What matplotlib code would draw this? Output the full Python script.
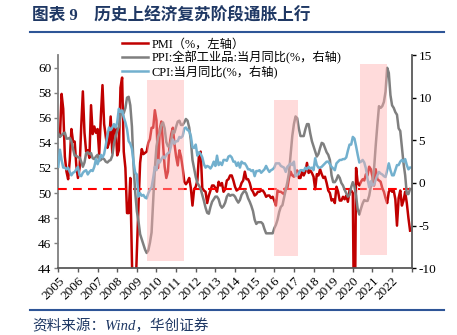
import matplotlib.pyplot as plt
import numpy as np
from matplotlib.lines import Line2D

plt.rcParams['font.family'] = ['Liberation Serif', 'Noto Sans CJK SC']
plt.rcParams['axes.unicode_minus'] = False

# monthly data, Jan 2005 - Dec 2022
pmi = [54.7, 54.5, 57.9, 56.7, 52.9, 51.7, 51.1, 52.6, 55.1, 54.1, 54.1, 52.2,
       51.2, 52.0, 55.3, 58.1, 54.8, 53.3, 53.4, 52.8, 57.0, 54.7, 55.3, 54.8,
       55.1, 53.1, 56.1, 58.6, 55.5, 54.5, 53.6, 54.0, 56.1, 53.2, 55.4, 55.3,
       53.0, 53.4, 58.4, 59.2, 53.3, 52.0, 48.4, 48.4, 51.2, 44.6, 38.8, 41.2,
       45.3, 49.0, 52.4, 53.5, 53.1, 53.2, 53.3, 54.0, 54.3, 55.2, 55.2, 56.6,
       55.8, 52.0, 55.1, 55.7, 53.9, 52.1, 51.2, 51.7, 53.8, 54.7, 55.2, 53.9,
       52.9, 52.2, 53.4, 52.9, 52.0, 50.9, 50.7, 50.9, 51.2, 50.4, 49.0, 50.3,
       50.5, 51.0, 53.1, 53.3, 50.4, 50.2, 50.1, 49.2, 49.8, 50.2, 50.6, 50.6,
       50.4, 50.1, 50.9, 50.6, 50.8, 50.1, 50.3, 51.0, 51.1, 51.4, 51.4, 51.0,
       50.5, 50.2, 50.3, 50.4, 50.8, 51.0, 51.7, 51.1, 51.1, 50.8, 50.3, 50.1,
       49.8, 49.9, 50.1, 50.1, 50.2, 50.2, 50.0, 49.7, 49.8, 49.8, 49.6, 49.7,
       49.4, 49.0, 50.2, 50.1, 50.1, 50.0, 49.9, 50.4, 50.4, 51.2, 51.7, 51.4,
       51.3, 51.6, 51.8, 51.2, 51.2, 51.7, 51.4, 51.7, 52.4, 51.6, 51.8, 51.6,
       51.3, 50.3, 51.5, 51.4, 51.9, 51.5, 51.2, 51.3, 50.8, 50.2, 50.0, 49.4,
       49.5, 49.2, 50.5, 50.1, 49.4, 49.4, 49.7, 49.5, 49.8, 49.3, 50.2, 50.2,
       50.0, 35.7, 52.0, 50.8, 50.6, 50.9, 51.1, 51.0, 51.5, 51.4, 52.1, 51.9,
       51.3, 50.6, 51.9, 51.1, 51.0, 50.9, 50.4, 50.1, 49.6, 49.2, 50.1, 50.3,
       50.1, 50.2, 49.5, 47.4, 49.6, 50.2, 49.0, 49.4, 50.1, 49.2, 48.0, 47.0]

ppi = [5.8, 5.4, 5.6, 5.8, 5.9, 5.2, 5.2, 5.3, 4.9, 4.0, 3.2, 3.2,
       3.0, 3.0, 2.5, 1.9, 2.4, 3.5, 3.6, 3.4, 3.5, 2.9, 2.8, 3.1,
       3.3, 2.6, 2.7, 2.9, 2.8, 2.5, 2.4, 2.6, 2.7, 3.2, 4.6, 5.4,
       6.1, 6.6, 8.0, 8.1, 8.2, 8.8, 10.0, 10.1, 9.1, 6.6, 2.0, -1.1,
       -3.3, -4.5, -6.0, -6.6, -7.2, -7.8, -8.2, -7.9, -7.0, -5.8, -2.1, 1.7,
       4.3, 5.4, 5.9, 6.8, 7.1, 6.4, 4.8, 4.3, 4.3, 5.0, 6.1, 5.9,
       6.6, 7.2, 7.3, 6.8, 6.8, 7.1, 7.5, 7.3, 6.5, 5.0, 2.7, 1.7,
       0.7, 0.0, -0.3, -0.7, -1.4, -2.1, -2.9, -3.5, -3.6, -2.8, -2.2, -1.9,
       -1.6, -1.6, -1.9, -2.6, -2.9, -2.7, -2.3, -1.6, -1.3, -1.5, -1.4, -1.4,
       -1.6, -2.0, -2.3, -2.0, -1.4, -1.1, -0.9, -1.2, -1.8, -2.2, -2.7, -3.3,
       -4.3, -4.8, -4.6, -4.6, -4.6, -4.8, -5.4, -5.9, -5.9, -5.9, -5.9, -5.9,
       -5.3, -4.9, -4.3, -3.4, -2.8, -2.6, -1.7, -0.8, 0.1, 1.2, 3.3, 5.5,
       6.9, 7.8, 7.6, 6.4, 5.5, 5.5, 5.5, 6.3, 6.9, 6.9, 5.8, 4.9,
       4.3, 3.7, 3.1, 3.4, 4.1, 4.7, 4.6, 4.1, 3.6, 3.3, 2.7, 0.9,
       0.1, 0.1, 0.4, 0.9, 0.6, 0.0, -0.3, -0.8, -1.2, -1.6, -1.4, -0.5,
       0.1, -0.4, -1.5, -3.1, -3.7, -3.0, -2.4, -2.0, -2.1, -2.1, -1.5, -0.4,
       0.3, 1.7, 4.4, 6.8, 9.0, 8.8, 9.0, 9.5, 10.7, 13.5, 12.9, 10.3,
       9.1, 8.8, 8.3, 8.0, 6.4, 6.1, 4.2, 2.3, 0.9, -1.3, -1.3, -0.7]

cpi = [1.9, 3.9, 2.7, 1.8, 1.8, 1.6, 1.8, 1.3, 0.9, 1.2, 1.3, 1.6,
       1.9, 0.9, 0.8, 1.2, 1.4, 1.5, 1.0, 1.3, 1.5, 1.4, 1.9, 2.8,
       2.2, 2.7, 3.3, 3.0, 3.4, 4.4, 5.6, 6.5, 6.2, 6.5, 6.9, 6.5,
       7.1, 8.7, 8.3, 8.5, 7.7, 7.1, 6.3, 4.9, 4.6, 4.0, 2.4, 1.2,
       1.0, -1.6, -1.2, -1.5, -1.4, -1.7, -1.8, -1.2, -0.8, -0.5, 0.6, 1.9,
       1.5, 2.7, 2.4, 2.8, 3.1, 2.9, 3.3, 3.5, 3.6, 4.4, 5.1, 4.6,
       4.9, 4.9, 5.4, 5.3, 5.5, 6.4, 6.5, 6.2, 6.1, 5.5, 4.2, 4.1,
       4.5, 3.2, 3.6, 3.4, 3.0, 2.2, 1.8, 2.0, 1.9, 1.7, 2.0, 2.5,
       2.0, 3.2, 2.1, 2.4, 2.1, 2.7, 2.7, 2.6, 3.1, 3.2, 3.0, 2.5,
       2.5, 2.0, 2.4, 1.8, 2.5, 2.3, 2.3, 2.0, 1.6, 1.6, 1.4, 1.5,
       0.8, 1.4, 1.4, 1.5, 1.2, 1.4, 1.6, 2.0, 1.6, 1.3, 1.5, 1.6,
       1.8, 2.3, 2.3, 2.3, 2.0, 1.9, 1.8, 1.3, 1.9, 2.1, 2.3, 2.1,
       2.5, 0.8, 0.9, 1.2, 1.5, 1.5, 1.4, 1.8, 1.6, 1.9, 1.7, 1.8,
       1.5, 2.9, 2.1, 1.8, 1.8, 1.9, 2.1, 2.3, 2.5, 2.5, 2.2, 1.9,
       1.7, 1.5, 2.3, 2.5, 2.7, 2.7, 2.8, 2.8, 3.0, 3.8, 4.5, 4.5,
       5.4, 5.2, 4.3, 3.3, 2.4, 2.5, 2.7, 2.4, 1.7, 0.5, -0.5, 0.2,
       -0.3, -0.2, 0.4, 0.9, 1.3, 1.1, 1.0, 0.8, 0.7, 1.5, 2.3, 1.5,
       0.9, 0.9, 1.5, 2.1, 2.1, 2.5, 2.7, 2.5, 2.8, 2.1, 1.6, 1.8]

years = list(range(2005, 2024))
year_labels = [str(y) for y in range(2005, 2023)] + ['']
# shaded recovery periods (start, end) in decimal years
periods = [(2009.5, 2011.42), (2016.0, 2017.2), (2020.35, 2021.75)]
periods_span = [(0.034, 0.883), (0.058, 0.789), (0.062, 0.958)]

t = 2005 + np.arange(len(pmi)) / 12.0

fig = plt.figure(figsize=(4.57, 3.35), dpi=100)
ax = fig.add_axes([0.1276, 0.1991, 0.7733, 0.6367])
ax2 = ax.twinx()

l1, = ax.plot(t, pmi, color='#C00000', lw=1.8, label='PMI（%，左轴）')
l2, = ax2.plot(t, ppi, color='#7F7F7F', lw=1.8, label='PPI:全部工业品:当月同比(%，右轴)')
l3, = ax2.plot(t, cpi, color='#72B0CE', lw=1.8, label='CPI:当月同比(%，右轴)')
ax.axhline(50.3, color='#FF0000', lw=1.5, ls=(0, (4.2, 3)), zorder=4)

for (a, b), (lo, hi) in zip(periods, periods_span):
    ax2.axvspan(a, b, lo, hi, color='#FFB0B0', alpha=0.45, lw=0, zorder=6)

ax.set_xlim(2005, 2023)
ax.set_ylim(44, 61)
ax2.set_ylim(-10, 15)
ax.set_yticks(range(44, 61, 2))
ax2.set_yticks(range(-10, 16, 5))
ax.set_xticks(years)
ax.set_xticklabels(year_labels, rotation=45, ha='right', rotation_mode='anchor')

for a in (ax, ax2):
    a.spines['top'].set_visible(False)
    a.tick_params(labelsize=9.5, length=3, width=1, direction='out', pad=2)
ax.spines['left'].set_color('#7F7F7F')
ax.spines['left'].set_linewidth(1.3)
ax2.spines['left'].set_visible(False)
ax2.spines['right'].set_color('#595959')
ax2.spines['right'].set_linewidth(1.3)
ax.spines['bottom'].set_color('#595959')
ax.spines['bottom'].set_linewidth(1.3)
ax.spines['right'].set_visible(False)
ax2.spines['bottom'].set_visible(False)
ax.tick_params(axis='y', colors='#7F7F7F', labelcolor='black')
ax.tick_params(axis='x', colors='#595959', labelcolor='black')

leg = fig.legend(handles=[l1, l2, l3], loc='upper left', bbox_to_anchor=(0.268, 0.885),
                 frameon=False, fontsize=8.8, labelspacing=0.05, handlelength=2.1,
                 handletextpad=0.3, borderpad=0, borderaxespad=0)

fig.text(0.07, 0.952, '图表 9    历史上经济复苏阶段通胀上行', fontsize=12, fontweight='bold',
         color='#1F3864', va='center', ha='left')
fig.add_artist(Line2D([30 / 457, 444 / 457], [1 - 32 / 335] * 2, color='#2E5597', lw=1.5))
fig.add_artist(Line2D([30 / 457, 444 / 457], [1 - 310 / 335] * 2, color='#2E5597', lw=1.5))
fig.text(0.07, 0.027, '资料来源：Wind，华创证券', fontsize=10.5, style='italic',
         color='#1F3864', va='center', ha='left')

fig.savefig('out.png', dpi=100)
